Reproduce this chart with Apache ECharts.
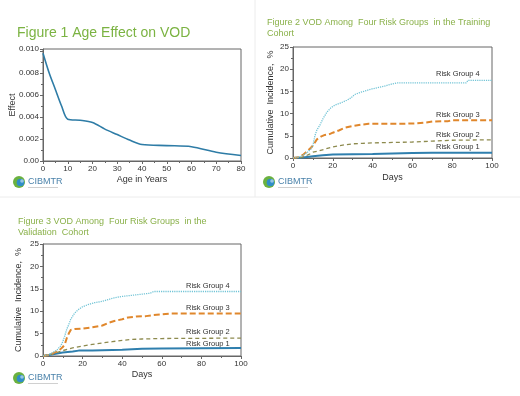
<!DOCTYPE html>
<html><head><meta charset="utf-8">
<script src="https://cdn.jsdelivr.net/npm/echarts@6/dist/echarts.min.js"></script>
<style>html,body{margin:0;padding:0;background:#fff}#c{width:520px;height:396px}</style>
</head><body><div id="c"></div>
<script>
// Figure 1
const ageYears = [0,2.5,5,7.5,10,15,20,25,30,35,40,50,60,70,80];
const ageEffect = [0.0098,0.0080,0.0065,0.0050,0.0038,0.0037,0.0035,0.0029,0.0024,0.0019,0.0015,0.0014,0.0013,0.0008,0.0005];
const ageTicks = [0,10,20,30,40,50,60,70,80];
const effectTicks = [0,0.002,0.004,0.006,0.008,0.010];

// Figure 2 (training cohort)
const trainG4Days = [0,3,5,7,9,10,11,12,13.5,15,17,19,21,24,27,29,31,34,37,40,43,46,49,52,60,70,80,87,88,100];
const trainG4Vals = [0,0.2,0.6,1.2,2.0,2.8,5.0,6.3,7.4,8.8,10.3,11.3,11.9,12.4,13.0,13.5,14.3,14.8,15.2,15.6,15.9,16.2,16.6,16.9,16.9,16.9,16.9,16.9,17.5,17.5];
const trainG3Days = [0,3,5,7,9,10,11,12,14,16,18,20,23,26,30,34,38,45,55,62,67,70,78,80,100];
const trainG3Vals = [0,0.2,0.7,1.5,2.3,2.8,3.5,4.2,4.8,5.2,5.3,5.7,6.2,6.8,7.2,7.5,7.7,7.7,7.7,7.8,8.0,8.2,8.3,8.5,8.5];
const trainG2Days = [0,4,6,8,10,13,16,20,25,30,35,40,50,60,70,80,100];
const trainG2Vals = [0,0.1,0.4,0.8,1.3,1.6,2.0,2.5,2.9,3.2,3.3,3.4,3.5,3.6,3.8,4.0,4.1];
const trainG1Days = [0,5,10,15,20,30,40,50,60,70,100];
const trainG1Vals = [0,0.1,0.4,0.6,0.8,0.85,0.9,1.0,1.1,1.2,1.2];

// Figure 3 (validation cohort)
const validG4Days = [0,3,5,7,8,9,10,11,12,13,14,15,16,18,20,23,26,30,33,36,40,44,50,54,56,60,100];
const validG4Vals = [0,0.3,0.8,1.3,1.8,2.3,3.2,4.5,6.0,7.0,8.2,8.9,9.6,10.4,11.0,11.5,11.9,12.2,12.6,13.0,13.3,13.5,13.8,14.0,14.4,14.4,14.4];
const validG3Days = [0,3,5,8,10,11,12,13,14,16,20,25,30,33,36,40,43,47,52,55,60,65,100];
const validG3Vals = [0,0.2,0.6,1.2,2.0,2.6,4.0,5.0,5.8,6.0,6.1,6.4,6.8,7.4,7.8,8.2,8.6,8.8,8.9,9.1,9.3,9.5,9.5];
const validG2Days = [0,5,10,15,20,25,30,35,40,45,50,60,100];
const validG2Vals = [0,0.5,1.2,1.8,2.2,2.6,2.9,3.2,3.5,3.7,3.8,3.9,4.0];
const validG1Days = [0,5,10,15,18,25,30,40,50,60,100];
const validG1Vals = [0,0.4,0.8,1.0,1.2,1.25,1.3,1.4,1.6,1.7,1.8];

const dayTicks = [0,20,40,60,80,100];
const pctTicks = [0,5,10,15,20,25];
const groupNames = ['Risk Group 1','Risk Group 2','Risk Group 3','Risk Group 4'];

const FONT = 'Liberation Sans, Arial, sans-serif';
const pair = (xs, ys) => xs.map((x, i) => [x, ys[i]]);
const axisCol = '#666';
const lbl = {fontSize: 8, color: '#333', fontFamily: FONT};

function xAx(idx, max, interval, name, gap) {
  return {gridIndex: idx, type: 'value', min: 0, max: max, interval: interval,
    name: name, nameLocation: 'middle', nameGap: gap,
    nameTextStyle: {fontSize: 9, color: '#333', fontFamily: FONT},
    axisLine: {show: true, onZero: false, lineStyle: {color: axisCol}},
    axisTick: {show: true, length: 3, lineStyle: {color: axisCol}},
    minorTick: {show: true, splitNumber: 2, length: 2, lineStyle: {color: axisCol}},
    splitLine: {show: false},
    axisLabel: Object.assign({margin: 4}, lbl)};
}
function yAx(idx, max, interval, name, gap, fmt) {
  return {gridIndex: idx, type: 'value', min: 0, max: max, interval: interval,
    name: name, nameLocation: 'middle', nameGap: gap, nameMoveOverlap: false,
    nameTextStyle: {fontSize: 9, color: '#333', fontFamily: FONT},
    axisLine: {show: true, lineStyle: {color: axisCol}},
    axisTick: {show: true, length: 3, lineStyle: {color: axisCol}},
    minorTick: {show: true, splitNumber: 2, length: 2, lineStyle: {color: axisCol}},
    splitLine: {show: false},
    axisLabel: Object.assign({margin: 4, formatter: fmt,
      showMaxLabel: true}, lbl)};
}

const styles = [
  {color: '#2f7fae', width: 2, type: 'solid'},
  {color: '#8d8a4e', width: 1.3, type: [4, 3]},
  {color: '#e0872c', width: 2, type: [6, 3]},
  {color: '#72c4d6', width: 1.3, type: [1.2, 1]}
];
function km(xi, data, g) {
  return {type: 'line', xAxisIndex: xi, yAxisIndex: xi, data: data, symbol: 'none',
    name: groupNames[g], lineStyle: styles[g], silent: true, animation: false};
}

function logo(x, y) {
  return {type: 'group', left: x, top: y, children: [
    {type: 'circle', shape: {cx: 6, cy: 6, r: 6}, style: {fill: '#6bb13f'}},
    {type: 'circle', shape: {cx: 7.5, cy: 6.5, r: 3.8}, style: {fill: '#2f8dc8'}},
    {type: 'circle', shape: {cx: 9, cy: 5, r: 1.8}, style: {fill: '#ffffff', opacity: 0.5}},
    {type: 'text', x: 15, y: 1, style: {text: 'CIBMTR', fontSize: 9, fill: '#4a82aa', fontFamily: FONT}},
    {type: 'rect', shape: {x: 15, y: 11, width: 30, height: 0.8}, style: {fill: '#c4c4c4'}}
  ]};
}
function rg(x, y, t) {
  return {type: 'text', x: x, y: y, style: {text: t, fontSize: 7.5, fill: '#333', fontFamily: FONT, textVerticalAlign: 'middle'}};
}

const chart = echarts.init(document.getElementById('c'), null, {renderer: 'canvas'});
chart.setOption({
  animation: false,
  backgroundColor: '#ffffff',
  title: [
    {text: 'Figure 1 Age Effect on VOD', left: 17, top: 26, padding: 0,
      textStyle: {fontSize: 14, fontWeight: 'normal', color: '#7bb342', fontFamily: FONT}},
    {text: 'Figure 2 VOD Among  Four Risk Groups  in the Training\nCohort', left: 267, top: 17, padding: 0,
      textStyle: {fontSize: 9, fontWeight: 'normal', color: '#8ab14a', fontFamily: FONT, lineHeight: 11}},
    {text: 'Figure 3 VOD Among  Four Risk Groups  in the\nValidation  Cohort', left: 18, top: 216, padding: 0,
      textStyle: {fontSize: 9, fontWeight: 'normal', color: '#8ab14a', fontFamily: FONT, lineHeight: 11}}
  ],
  grid: [
    {left: 43, top: 49, width: 198, height: 112, show: true, borderColor: axisCol, borderWidth: 1, backgroundColor: 'transparent'},
    {left: 293, top: 47, width: 199, height: 111, show: true, borderColor: axisCol, borderWidth: 1, backgroundColor: 'transparent'},
    {left: 43, top: 244, width: 198, height: 112, show: true, borderColor: axisCol, borderWidth: 1, backgroundColor: 'transparent'}
  ],
  xAxis: [
    xAx(0, 80, 10, 'Age in Years', 14),
    xAx(1, 100, 20, 'Days', 15),
    xAx(2, 100, 20, 'Days', 14)
  ],
  yAxis: [
    yAx(0, 0.01018, 0.002, 'Effect', 26, v => v === 0 ? '0.00' : v.toFixed(3)),
    yAx(1, 25, 5, 'Cumulative  Incidence,  %', 18, v => String(v)),
    yAx(2, 25, 5, 'Cumulative  Incidence,  %', 20, v => String(v))
  ],
  series: [
    {type: 'line', xAxisIndex: 0, yAxisIndex: 0, data: pair(ageYears, ageEffect), smooth: 0.3,
      symbol: 'none', lineStyle: {color: '#2e7ca6', width: 1.6}},
    km(1, pair(trainG1Days, trainG1Vals), 0),
    km(1, pair(trainG2Days, trainG2Vals), 1),
    km(1, pair(trainG3Days, trainG3Vals), 2),
    km(1, pair(trainG4Days, trainG4Vals), 3),
    km(2, pair(validG1Days, validG1Vals), 0),
    km(2, pair(validG2Days, validG2Vals), 1),
    km(2, pair(validG3Days, validG3Vals), 2),
    km(2, pair(validG4Days, validG4Vals), 3)
  ],
  graphic: [
    {type: 'line', shape: {x1: 0, y1: 197, x2: 520, y2: 197}, style: {stroke: '#ececec', lineWidth: 1}},
    {type: 'line', shape: {x1: 255, y1: 0, x2: 255, y2: 197}, style: {stroke: '#ececec', lineWidth: 1}},
    logo(13, 176), logo(263, 176), logo(13, 372),
    rg(436, 74, groupNames[3]), rg(436, 115, groupNames[2]), rg(436, 135, groupNames[1]), rg(436, 147, groupNames[0]),
    rg(186, 286, groupNames[3]), rg(186, 308, groupNames[2]), rg(186, 332, groupNames[1]), rg(186, 344, groupNames[0])
  ]
});
</script></body></html>
